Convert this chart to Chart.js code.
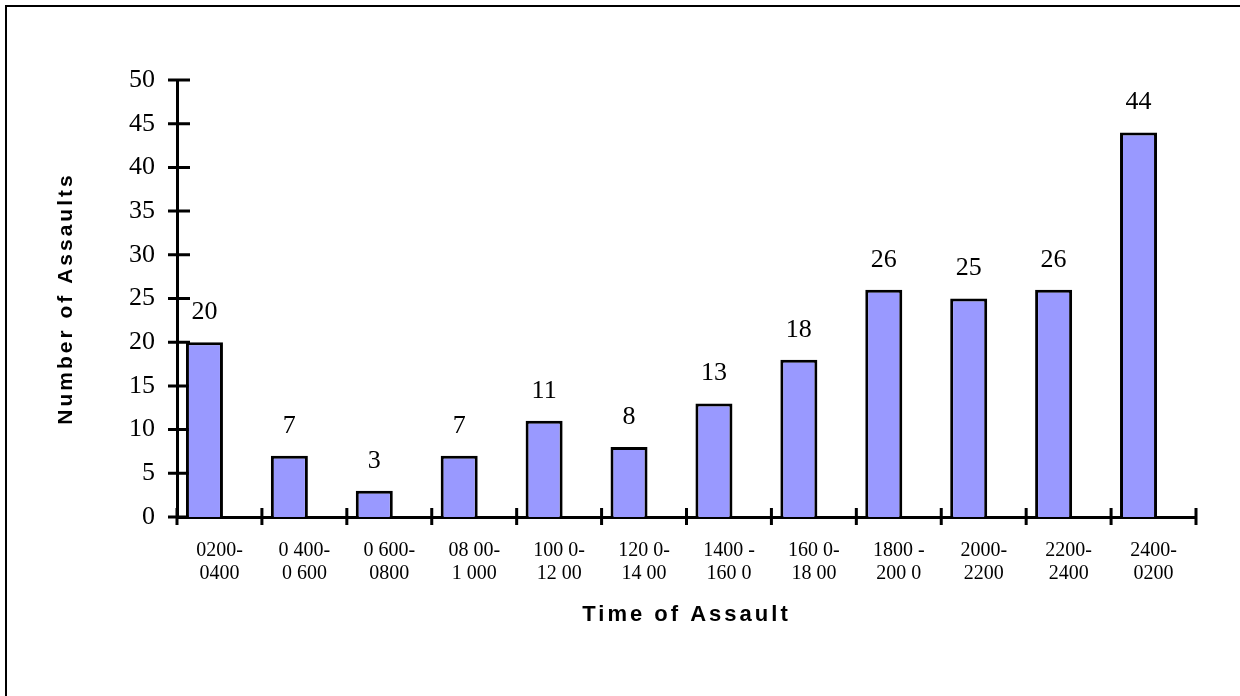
<!DOCTYPE html>
<html>
<head>
<meta charset="utf-8">
<script src="https://cdn.jsdelivr.net/npm/chart.js@4.4.1/dist/chart.umd.min.js"></script>
<style>
  html, body { margin: 0; padding: 0; background: #fff; }
  #wrap { position: relative; width: 1240px; height: 696px; overflow: hidden; }
  #wrap canvas { position: absolute; left: 0; top: 0; }
  #frame { position: absolute; left: 5px; top: 5px; right: 0; bottom: 0;
           border-top: 2px solid #000; border-left: 2px solid #000; pointer-events: none; }
</style>
</head>
<body>
<div id="wrap">
  <canvas id="chart" width="1240" height="696"></canvas>
  <div id="frame"></div>
</div>
<script>
// Two-hour time windows (two-line tick labels)
const timeSlots = [
  ['0200-', '0400'],
  ['0 400-', '0 600'],
  ['0 600-', '0800'],
  ['08 00-', '1 000'],
  ['100 0-', '12 00'],
  ['120 0-', '14 00'],
  ['1400 -', '160 0'],
  ['160 0-', '18 00'],
  ['1800 -', '200 0'],
  ['2000-', '2200'],
  ['2200-', '2400'],
  ['2400-', '0200']
];

// Number of assaults in each window
const assaults = [20, 7, 3, 7, 11, 8, 13, 18, 26, 25, 26, 44];

// Value axis range
const yMin = 0;
const yMax = 50;
const yStep = 5;

const xTitle = 'Time of Assault';
const yTitle = 'Number of Assaults';

const serif = 'Liberation Serif';
const sans = 'Liberation Sans';

// Axis titles are set with wide tracking; everything after them uses normal spacing.
const tracking = {
  id: 'tracking',
  beforeDraw(chart) { chart.ctx.letterSpacing = '3px'; },
  beforeDatasetsDraw(chart) { chart.ctx.letterSpacing = '0px'; }
};

// Tick marks that cross the axis lines.
const crossTicks = {
  id: 'crossTicks',
  beforeDatasetsDraw(chart) {
    const { ctx, chartArea: area } = chart;
    const x = chart.scales.x, y = chart.scales.y;
    ctx.save();
    ctx.strokeStyle = '#000';
    ctx.lineWidth = 3;
    ctx.beginPath();
    y.ticks.forEach(t => {
      const py = y.getPixelForValue(t.value);
      ctx.moveTo(area.left - 9, py);
      ctx.lineTo(area.left + 13, py);
    });
    const n = x.ticks.length;
    for (let i = 0; i <= n; i++) {
      let px;
      if (i === 0) px = area.left;
      else if (i === n) px = area.right;
      else px = (x.getPixelForValue(i - 1) + x.getPixelForValue(i)) / 2;
      ctx.moveTo(px, area.bottom - 9);
      ctx.lineTo(px, area.bottom + 8);
    }
    ctx.stroke();
    ctx.restore();
  }
};

// Count written above each bar.
const barValues = {
  id: 'barValues',
  afterDatasetsDraw(chart) {
    const ctx = chart.ctx;
    const meta = chart.getDatasetMeta(0);
    ctx.save();
    ctx.fillStyle = '#000';
    ctx.font = `26px "${serif}"`;
    ctx.textAlign = 'center';
    ctx.textBaseline = 'middle';
    meta.data.forEach((bar, i) => {
      ctx.fillText(String(assaults[i]), bar.x, bar.y - 30);
    });
    ctx.restore();
  }
};

new Chart(document.getElementById('chart'), {
  type: 'bar',
  data: {
    labels: timeSlots,
    datasets: [
      {
        label: yTitle,
        data: assaults,
        backgroundColor: '#9999FF',
        borderColor: '#000000',
        borderWidth: 3,
        categoryPercentage: 0.707,
        barPercentage: 1.233
      },
      {
        // empty companion series: keeps each bar in the left part of its slot
        label: '',
        data: [],
        categoryPercentage: 0.707,
        barPercentage: 1.233
      }
    ]
  },
  options: {
    responsive: false,
    animation: false,
    devicePixelRatio: 1,
    layout: { padding: { left: 20, top: 80, right: 44, bottom: 49 } },
    plugins: {
      legend: { display: false },
      tooltip: { enabled: false },
      title: { display: false }
    },
    scales: {
      x: {
        type: 'category',
        offset: true,
        grid: { display: false, drawTicks: false, tickLength: 0 },
        border: { display: true, color: '#000', width: 3 },
        ticks: {
          color: '#000',
          font: { family: serif, size: 20, lineHeight: 1.15 },
          padding: 22,
          maxRotation: 0,
          minRotation: 0,
          autoSkip: false,
          z: 1
        },
        title: {
          display: true,
          text: xTitle,
          color: '#000',
          font: { family: sans, size: 22, weight: 'bold' },
          padding: { top: 0, bottom: 19 }
        },
        afterFit(scale) { scale.height = 130; }
      },
      y: {
        type: 'linear',
        min: yMin,
        max: yMax,
        grid: { display: false, drawTicks: false, tickLength: 0 },
        border: { display: true, color: '#000', width: 3 },
        ticks: {
          stepSize: yStep,
          color: '#000',
          font: { family: serif, size: 26 },
          padding: 22,
          z: 1
        },
        title: {
          display: true,
          text: yTitle,
          color: '#000',
          font: { family: sans, size: 21, weight: 'bold' },
          padding: { top: 34, bottom: 0 }
        },
        afterFit(scale) { scale.width = 157; }
      }
    }
  },
  plugins: [tracking, crossTicks, barValues]
});
</script>
</body>
</html>
